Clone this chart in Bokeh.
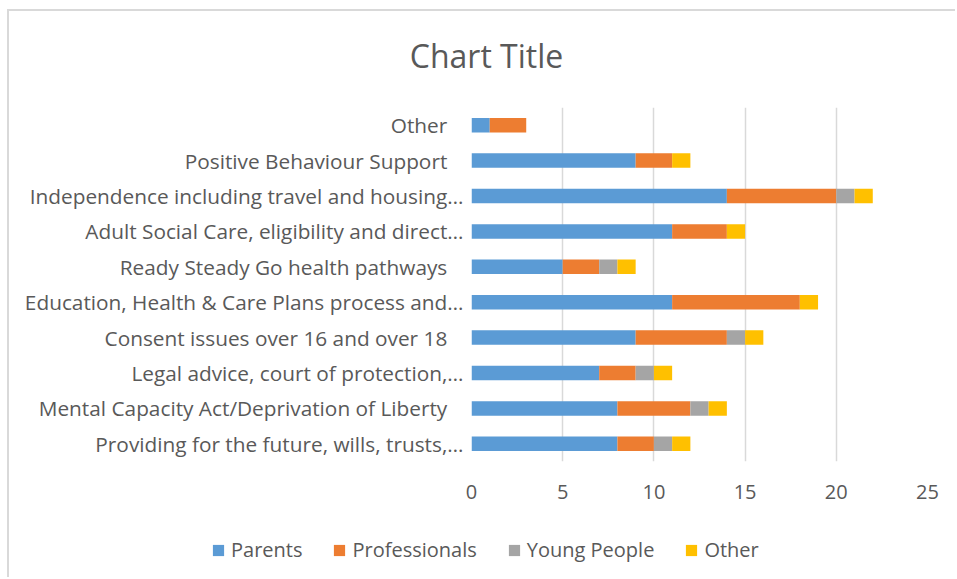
from bokeh.plotting import figure
from bokeh.models import Range1d, ColumnDataSource, Legend, FixedTicker, Label
from bokeh.embed import file_html
from bokeh.resources import INLINE

# ---- data (bottom to top, as drawn) ----
categories = [
    "Providing for the future, wills, trusts,…",
    "Mental Capacity Act/Deprivation of Liberty",
    "Legal advice, court of protection,…",
    "Consent issues over 16 and over 18",
    "Education, Health & Care Plans process and…",
    "Ready Steady Go health pathways",
    "Adult Social Care, eligibility and direct…",
    "Independence including travel and housing…",
    "Positive Behaviour Support",
    "Other",
]
parents = [8, 8, 7, 9, 11, 5, 11, 14, 9, 1]
professionals = [2, 4, 2, 5, 7, 2, 3, 6, 2, 2]
young_people = [1, 1, 1, 1, 0, 1, 0, 1, 0, 0]
other = [1, 1, 1, 1, 1, 1, 1, 1, 1, 0]
series = ["Parents", "Professionals", "Young People", "Other"]
colors = ["#5B9BD5", "#ED7D31", "#A5A5A5", "#FFC000"]
x_ticks = [0, 5, 10, 15, 20, 25]
chart_title = "Chart Title"

FONT = "Open Sans"
TXT = "#595959"

pos = list(range(len(categories)))
src = ColumnDataSource(dict(
    pos=pos,
    cat=categories,
    Parents=parents,
    Professionals=professionals,
    **{"Young People": young_people},
    Other=other,
))


def strip(height, styles):
    f = figure(width=948, height=height, x_range=Range1d(0, 1), y_range=Range1d(0, 1),
               x_axis_location=None, y_axis_location=None,
               output_backend="svg", toolbar_location=None,
               min_border=0, min_border_left=0, min_border_right=0,
               min_border_top=0, min_border_bottom=0)
    f.styles = styles
    f.grid.visible = False
    f.outline_line_color = None
    f.background_fill_color = "white"
    f.border_fill_color = "white"
    return f


# ---- title strip ----
tf = strip(80, {"margin-left": "7px", "margin-top": "9px",
                "border-top": "2px solid #d9d9d9", "border-left": "2px solid #d9d9d9"})
tf.add_layout(Label(x=477, y=36, x_units="screen", y_units="screen", text=chart_title,
                    text_align="center", text_baseline="middle",
                    text_font=FONT, text_font_size="32px", text_color=TXT))

# ---- main chart ----
p = figure(
    width=948, height=429,
    y_range=Range1d(-0.5, len(categories) - 0.5),
    x_range=Range1d(0, 25),
    output_backend="svg", toolbar_location=None,
    min_border_left=462, min_border_right=30,
    min_border_top=18, min_border_bottom=57,
)
p.styles = {"margin-left": "7px", "border-left": "2px solid #d9d9d9"}
p.outline_line_color = None
p.background_fill_color = "white"
p.border_fill_color = "white"

p.hbar_stack(series, y="pos", height=0.41, color=colors, line_color=None, source=src)

xa = p.xaxis[0]
xa.ticker = FixedTicker(ticks=x_ticks)
xa.axis_line_color = None
xa.major_tick_line_color = None
xa.minor_tick_line_color = None
xa.major_label_text_font = FONT
xa.major_label_text_font_size = "20px"
xa.major_label_text_color = TXT
xa.major_label_standoff = 17
p.xgrid.ticker = FixedTicker(ticks=x_ticks)
p.xgrid.grid_line_color = "#d9d9d9"
p.xgrid.grid_line_width = 1.5

# y axis with category labels; untruncated labels sit further from the axis
ya = p.yaxis[0]
ya.ticker = FixedTicker(ticks=pos)
ya.axis_line_color = None
ya.major_tick_line_color = None
ya.minor_tick_line_color = None
ya.major_label_text_font = FONT
ya.major_label_text_font_size = "20.8px"
ya.major_label_text_color = TXT
ya.major_label_standoff = 2
ya.major_label_overrides = {
    i: (c if c.endswith("…") else c + "\u00a0\u00a0\u00a0")
    for i, c in zip(pos, categories)
}
p.ygrid.grid_line_color = None

# ---- legend strip ----
lg = strip(59, {"margin-left": "7px", "border-left": "2px solid #d9d9d9"})
keys = lg.hbar_stack(series, y="pos", height=0.41, color=colors, line_color=None,
                     source=src)
for r in keys:
    r.visible = False
legend = Legend(items=[(s, [r]) for s, r in zip(series, keys)],
                orientation="horizontal", location=(202, 14),
                border_line_color=None, background_fill_alpha=0,
                inactive_fill_alpha=0,
                padding=0, margin=0, spacing=30, label_standoff=6,
                glyph_width=14, glyph_height=14,
                label_text_font=FONT, label_text_font_size="20px",
                label_text_color=TXT)
lg.add_layout(legend, "center")

open("out.html", "w").write(file_html([tf, p, lg], INLINE))
